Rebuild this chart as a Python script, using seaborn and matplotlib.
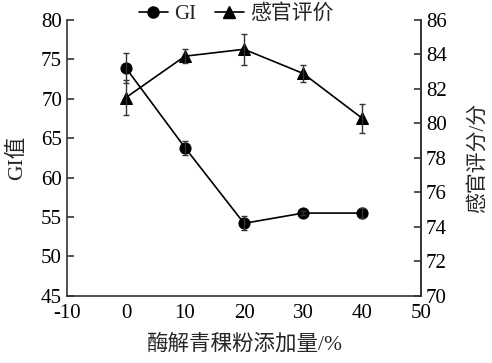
import matplotlib
matplotlib.use('Agg')
import numpy as np
import pandas as pd
import matplotlib.pyplot as plt
import seaborn as sns
from matplotlib.lines import Line2D

# datos
adicion = [0, 10, 20, 30, 40]
gi = [73.9, 63.8, 54.2, 55.5, 55.5]
gi_err = [1.9, 0.9, 0.9, 0.3, 0.6]
sensorial = [81.5, 83.9, 84.3, 82.9, 80.3]
sensorial_err = [1.0, 0.4, 0.9, 0.5, 0.85]

df = pd.DataFrame({'adicion': adicion, 'gi': gi, 'sensorial': sensorial})

sns.set_theme(style="white")
plt.rcParams['font.family'] = ['Liberation Serif', 'Noto Sans CJK SC']
plt.rcParams['axes.unicode_minus'] = False

fig = plt.figure(figsize=(4.92, 3.63), dpi=100)
ax = fig.add_axes([0.136, 0.185, 0.72, 0.76])
ax2 = ax.twinx()

sns.lineplot(data=df, x='adicion', y='gi', ax=ax, color='black', lw=1.2,
             marker='o', markersize=8, markeredgecolor='black')
ax.errorbar(adicion, gi, yerr=gi_err, fmt='none', ecolor='#333333', elinewidth=1, capsize=2.5)

sns.lineplot(data=df, x='adicion', y='sensorial', ax=ax2, color='black', lw=1.2,
             marker='^', markersize=8, markeredgecolor='black')
ax2.errorbar(adicion, sensorial, yerr=sensorial_err, fmt='none', ecolor='#333333', elinewidth=1, capsize=2.5)

ax.set_xlim(-10, 50)
ax.set_ylim(45, 80)
ax2.set_ylim(70, 86)
ax.set_xticks(np.arange(-10, 51, 10))
ax.set_yticks(np.arange(45, 81, 5))
ax2.set_yticks(np.arange(70, 87, 2))

for a in (ax, ax2):
    a.spines['top'].set_visible(False)
    for s in a.spines.values():
        s.set_color('#333333')
        s.set_linewidth(1.2)
    a.tick_params(direction='in', length=5, width=1.2, colors='#333333', labelsize=15,
                  labelcolor='black')
ax.tick_params(axis='x', pad=6)
ax2.spines['left'].set_visible(False)
ax2.spines['bottom'].set_visible(False)

ax.set_xlabel('酶解青稞粉添加量/%', fontsize=15.5, labelpad=8)
ax.set_ylabel('GI值', fontsize=15.5, labelpad=10)
ax2.set_ylabel('感官评分/分', fontsize=15, labelpad=15)

handles = [Line2D([0], [0], color='black', lw=1.2, marker='o', markersize=8),
           Line2D([0], [0], color='black', lw=1.2, marker='^', markersize=8)]
fig.legend(handles, ['GI', '感官评价'], loc='upper center', bbox_to_anchor=(0.48, 1.04),
           ncol=2, frameon=False, fontsize=15, handlelength=1.4, columnspacing=0.9,
           handletextpad=0.3)

plt.savefig('out.png', dpi=100)
plt.close()
